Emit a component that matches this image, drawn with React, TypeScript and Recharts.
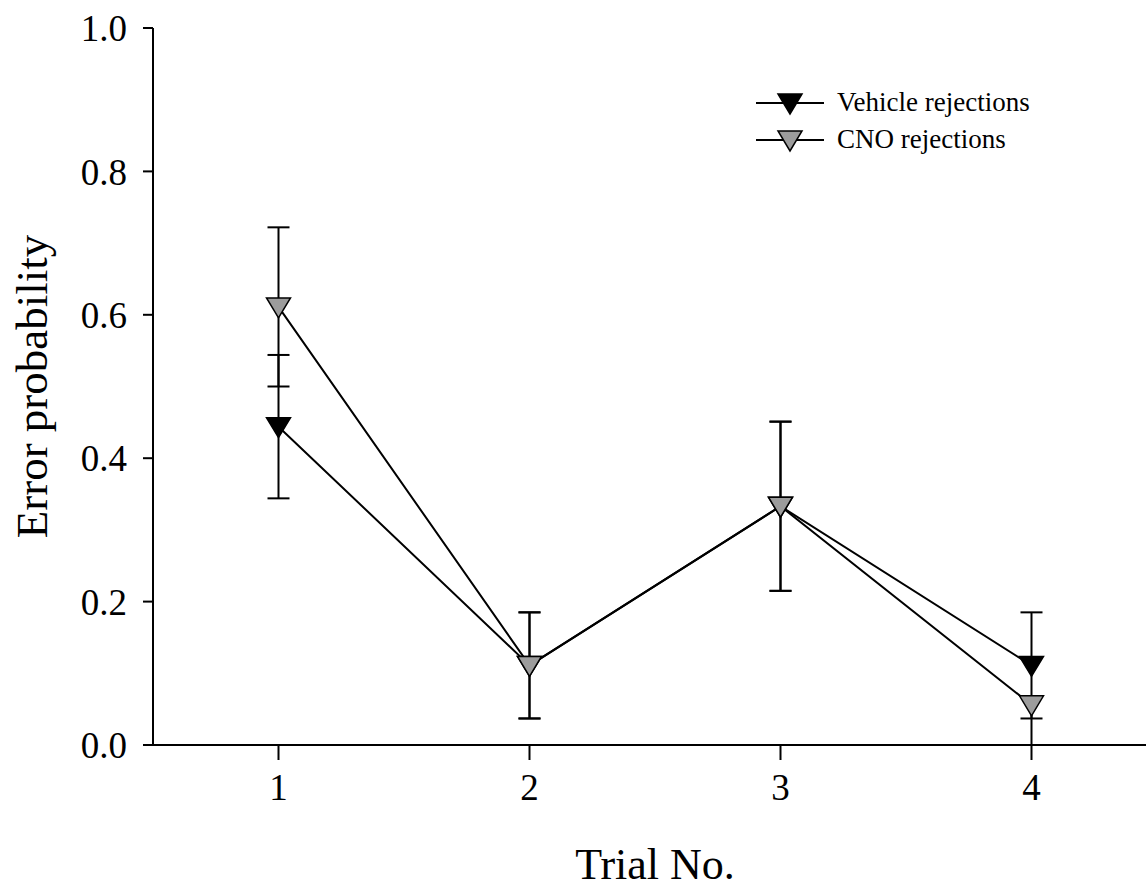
import { LineChart, Line, XAxis, YAxis, ErrorBar } from 'recharts'

const trials = [1, 2, 3, 4]
const vehicle = [0.444, 0.111, 0.333, 0.111]
const vehicleErr = [0.1, 0.074, 0.118, 0.074]
const cno = [0.611, 0.111, 0.333, 0.056]
// [lower, upper]; the upper bar at trial 4 is hidden under the symbol
const cnoErr = [
	[0.111, 0.111],
	[0.074, 0.074],
	[0.118, 0.118],
	[0.056, 0.011]
]
const yTicks = [0, 0.2, 0.4, 0.6, 0.8, 1.0]

const data = trials.map((t, i) => ({
	trial: t,
	vehicle: vehicle[i],
	vehicleErr: vehicleErr[i],
	cno: cno[i],
	cnoErr: cnoErr[i]
}))

const FONT = '"Liberation Serif", "Times New Roman", serif'
const GREY = '#9c9c9c'

const Tri = ({ cx, cy, fill }: any) => (
	<path
		d={`M${cx - 12},${cy - 9} L${cx + 12},${cy - 9} L${cx},${cy + 11} Z`}
		fill={fill}
		stroke="#000"
		strokeWidth={1.5}
	/>
)

const legendItems = [
	{ name: 'Vehicle rejections', fill: '#000' },
	{ name: 'CNO rejections', fill: GREY }
]

const LegendBox = () => (
	<div style={{ position: 'absolute', left: 755, top: 84, fontFamily: FONT, fontSize: 27, color: '#000' }}>
		{legendItems.map((it) => (
			<div key={it.name} style={{ display: 'flex', alignItems: 'center', height: 37 }}>
				<svg width={70} height={30} style={{ marginRight: 12 }}>
					<line x1={1} y1={15} x2={69} y2={15} stroke="#000" strokeWidth={2} />
					<Tri cx={35} cy={15} fill={it.fill} />
				</svg>
				<span>{it.name}</span>
			</div>
		))}
	</div>
)

const YLabel = ({ viewBox }: any) => {
	const x = 32
	const y = viewBox.y + viewBox.height / 2
	return (
		<text
			x={x}
			y={y}
			transform={`rotate(-90, ${x}, ${y})`}
			textAnchor="middle"
			dominantBaseline="central"
			fontFamily={FONT}
			fontSize={45}
			fill="#000"
		>
			Error probability
		</text>
	)
}

const XLabel = ({ viewBox }: any) => (
	<text
		x={viewBox.x + viewBox.width / 2}
		y={864}
		textAnchor="middle"
		dominantBaseline="central"
		fontFamily={FONT}
		fontSize={44}
		fill="#000"
	>
		Trial No.
	</text>
)

export default function App() {
	return (
		<div style={{ position: 'absolute', left: 0, top: 0, width: 1146, height: 888, overflow: 'hidden', background: '#fff' }}>
			<LineChart width={1200} height={888} data={data} margin={{ top: 28, right: 43, left: 0, bottom: 0 }}>
				<XAxis
					type="number"
					dataKey="trial"
					domain={[0.5, 4.5]}
					ticks={trials}
					allowDataOverflow
					height={143}
					tickSize={15}
					tickMargin={14}
					stroke="#000"
					strokeWidth={2}
					tick={{ fill: '#000', fontSize: 37, fontFamily: FONT }}
					label={<XLabel />}
				/>
				<YAxis
					type="number"
					domain={[0, 1]}
					ticks={yTicks}
					width={153}
					tickSize={10}
					tickMargin={16}
					stroke="#000"
					strokeWidth={2}
					tickFormatter={(v: number) => v.toFixed(1)}
					tick={{ fill: '#000', fontSize: 37, fontFamily: FONT }}
					label={<YLabel />}
				/>
				{/* lines and error bars first */}
				<Line
					dataKey="vehicle"
					type="linear"
					stroke="#000"
					strokeWidth={2}
					isAnimationActive={false}
					activeDot={false}
					dot={false}
				>
					<ErrorBar dataKey="vehicleErr" direction="y" width={11} stroke="#000" strokeWidth={2} zIndex={300} />
				</Line>
				<Line
					dataKey="cno"
					type="linear"
					stroke="#000"
					strokeWidth={2}
					isAnimationActive={false}
					activeDot={false}
					dot={false}
				>
					<ErrorBar dataKey="cnoErr" direction="y" width={11} stroke="#000" strokeWidth={2} zIndex={300} />
				</Line>
				{/* symbols on top */}
				<Line
					dataKey="vehicle"
					name="Vehicle rejections"
					stroke="none"
					isAnimationActive={false}
					activeDot={false}
					zIndex={700}
					dot={(p: any) => <Tri key={`v${p.index}`} cx={p.cx} cy={p.cy} fill="#000" />}
				/>
				<Line
					dataKey="cno"
					name="CNO rejections"
					stroke="none"
					isAnimationActive={false}
					activeDot={false}
					zIndex={710}
					dot={(p: any) => <Tri key={`c${p.index}`} cx={p.cx} cy={p.cy} fill={GREY} />}
				/>
			</LineChart>
			<LegendBox />
		</div>
	)
}
